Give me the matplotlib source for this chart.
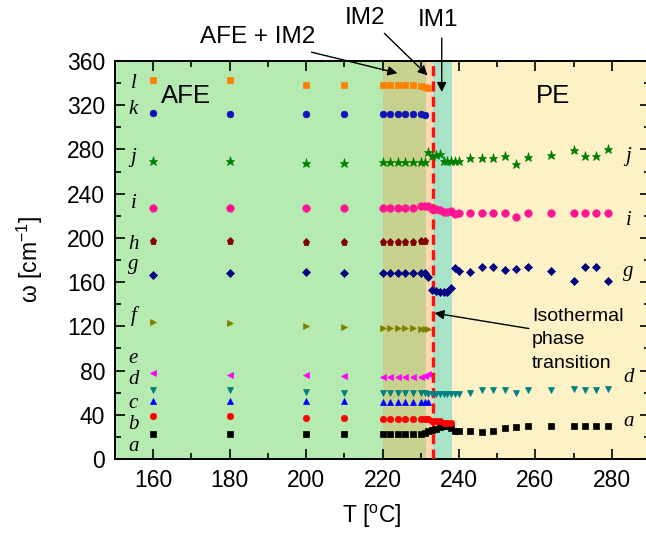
import matplotlib
matplotlib.use('Agg')
import matplotlib.pyplot as plt
from matplotlib.ticker import MultipleLocator

plt.rcParams['font.family'] = ['Liberation Sans', 'DejaVu Sans']
plt.rcParams['mathtext.fontset'] = 'custom'
plt.rcParams['mathtext.rm'] = 'Liberation Sans'
plt.rcParams['mathtext.it'] = 'Liberation Sans:italic'

# temperature grids (deg C)
T_LOW = [160, 180, 200, 210]
T_AFE = [220, 222, 224, 226, 228, 230, 231]
T_TR = [232, 233, 234, 235, 236, 237, 238]
T_PE = [239, 240, 243, 246, 249, 252, 255, 258, 264, 270, 273, 276, 279]

# mode frequencies (cm^-1)
w_l = [342.8, 342.8, 338.3, 338.3] + [338.3, 338.3, 338.3, 338.3, 338.3, 337.0, 336.5] + [336.0]
w_k = [313.3, 312.0, 312.0, 312.0] + [312.0, 312.0, 312.0, 312.0, 312.0, 312.0, 311.5]
w_j = ([269.9, 270.0, 268.0, 268.0] + [268.5] * 7
       + [277.4, 274.4, 275.0, 276.0, 270.0, 270.0, 270.0]
       + [270.0, 270.0, 272.6, 272.0, 272.0, 274.2, 266.6, 273.4, 275.2, 279.5, 274.3, 274.3, 280.2])
w_i = ([227.4] * 4 + [227.4] * 5 + [228.5, 228.5]
       + [228.5, 226.0, 225.8, 225.3, 223.8, 223.8, 224.5]
       + [221.7, 222.3, 222.3, 222.3, 222.3, 222.3, 219.3, 222.3, 222.3, 222.3, 222.3, 222.3, 222.3])
w_h = [197.3, 197.3, 196.6, 196.6] + [196.6] * 5 + [197.5, 197.5]
w_g = ([166.5, 168.6, 169.0, 168.3] + [168.6] * 6 + [168.0]
       + [165.0, 153.0, 152.0, 151.5, 151.0, 151.0, 154.5]
       + [172.5, 170.4, 169.5, 174.0, 174.0, 171.0, 171.7, 174.0, 170.1, 161.3, 174.0, 174.0, 161.1])
w_f = [124.3, 122.8, 120.4, 119.2] + [118.2] * 5 + [117.4, 117.4] + [117.4]
w_e = [77.6, 76.1, 75.8, 75.2] + [74.0] * 5 + [74.5, 75.2] + [77.0]
w_d = ([62.5, 62.5, 61.0, 60.1] + [59.5] * 7 + [59.0] * 7
       + [59.0, 59.0, 60.0, 62.0, 62.0, 62.0, 60.0, 62.0, 62.0, 63.0, 62.5, 62.5, 63.0])
w_c = [52.5, 52.5, 52.5, 52.2] + [51.6] * 7 + [51.6]
w_b = [38.9, 38.9, 37.4, 36.8] + [36.3] * 7 + [36.0, 34.8, 34.3, 34.0, 32.5, 33.0, 32.5]
w_a = ([22.9, 22.9, 22.9, 22.3] + [22.6] * 6 + [23.5]
       + [25.0, 26.2, 26.8, 28.8, 29.4, 29.8, 27.7]
       + [25.4, 25.4, 25.0, 24.3, 25.0, 27.9, 28.8, 29.4, 29.4, 29.4, 29.4, 30.0, 30.0])

T_ALL = T_LOW + T_AFE + T_TR + T_PE
T_BELOW = T_LOW + T_AFE
T_BELOW_232 = T_LOW + T_AFE + [232]
T_TO_238 = T_LOW + T_AFE + T_TR

series = [
    # label, T, omega, marker, colour, size
    ('a', T_ALL, w_a, 's', 'black', 4.2),
    ('b', T_TO_238, w_b, 'o', '#ff0000', 4.6),
    ('c', T_BELOW_232, w_c, '^', '#0000ff', 5.0),
    ('d', T_ALL, w_d, 'v', '#008080', 5.0),
    ('e', T_BELOW_232, w_e, '<', '#ff00ff', 5.0),
    ('f', T_BELOW_232, w_f, '>', '#808000', 5.0),
    ('g', T_ALL, w_g, 'D', '#000080', 4.2),
    ('h', T_BELOW, w_h, 'p', '#800000', 5.2),
    ('i', T_ALL, w_i, 'o', '#ff1493', 5.4),
    ('j', T_ALL, w_j, '*', '#008000', 6.5),
    ('k', T_BELOW, w_k, 'o', '#1010b8', 4.8),
    ('l', T_BELOW_232, w_l, 's', '#ff8000', 4.4),
]

# mode letters beside the data
left_letters = ['a', 'b', 'c', 'd', 'e', 'f', 'g', 'h', 'i', 'j', 'k', 'l']
left_letter_w = [11, 31, 50.5, 72, 91, 129, 176, 194, 231, 273, 316, 340]
right_letters = ['a', 'd', 'g', 'i', 'j']
right_letter_w = [34, 73.3, 169.6, 216, 273.5]

fig = plt.figure(figsize=(6.46, 5.47), dpi=100)
ax = fig.add_axes([115 / 646, 88 / 547, 535 / 646, 398 / 547])

# phase regions
ax.axvspan(150, 220, color='#b5ebb0', lw=0, zorder=0)
ax.axvspan(220, 231.5, color='#c9d18e', lw=0, zorder=0)
ax.axvspan(231.5, 233.1, color='#f8d9b4', lw=0, zorder=0)
ax.axvspan(233.1, 238.3, color='#a8e3c7', lw=0, zorder=0)
ax.axvspan(238.3, 290, color='#fdf1c6', lw=0, zorder=0)
ax.axvline(233.1, color='#ff1010', lw=2.4, ls=(0, (3, 1.6)), zorder=3)

for name, t, w, m, c, s in series:
    ax.plot(t, w, ls='none', marker=m, color=c, markersize=s,
            markeredgewidth=0.5, zorder=4)

for lab, y in zip(left_letters, left_letter_w):
    ax.text(154.8, y, lab, family='Liberation Serif', style='italic',
            fontsize=15, ha='center', va='center', zorder=5)
for lab, y in zip(right_letters, right_letter_w):
    ax.text(284.4, y, lab, family='Liberation Serif', style='italic',
            fontsize=15, ha='center', va='center', zorder=5)

ax.text(168.6, 328, 'AFE', fontsize=18.5, ha='center', va='center')
ax.text(264.6, 328, 'PE', fontsize=18.5, ha='center', va='center')

arrow = dict(arrowstyle='-|>', color='black', lw=1.0, mutation_scale=14,
             shrinkA=0, shrinkB=0)
ax.annotate('', xy=(223.9, 349), xytext=(201.4, 368), arrowprops=arrow,
            annotation_clip=False)
ax.text(187.3, 382, 'AFE + IM2', fontsize=17.5, ha='center', va='center',
        clip_on=False)
ax.annotate('', xy=(231.8, 347), xytext=(220.5, 385), arrowprops=arrow,
            annotation_clip=False)
ax.text(215.3, 398.5, 'IM2', fontsize=17.5, ha='center', va='center',
        clip_on=False)
ax.annotate('', xy=(235.5, 332), xytext=(235.5, 380.7), arrowprops=arrow,
            annotation_clip=False)
ax.text(234.6, 397, 'IM1', fontsize=17.5, ha='center', va='center',
        clip_on=False)

ax.annotate('', xy=(233.6, 132), xytext=(258.3, 118), arrowprops=arrow)
ax.text(259.1, 137, 'Isothermal\nphase\ntransition', fontsize=14,
        ha='left', va='top', linespacing=1.5)

ax.set_xlim(150, 290)
ax.set_ylim(0, 360)
ax.xaxis.set_major_locator(MultipleLocator(20))
ax.xaxis.set_minor_locator(MultipleLocator(10))
ax.yaxis.set_major_locator(MultipleLocator(40))
ax.yaxis.set_minor_locator(MultipleLocator(20))
ax.tick_params(which='both', direction='in', top=True, right=True,
               labelsize=16.5, width=1.2)
ax.tick_params(which='major', length=7, pad=7)
ax.tick_params(which='minor', length=4)
for sp in ax.spines.values():
    sp.set_linewidth(1.4)

ax.set_xlabel('T [$^{\\rm o}$C]', fontsize=16.5)
ax.set_ylabel('\u03c9 [cm$^{-1}$]', fontsize=16.5)
ax.xaxis.set_label_coords(0.48, -0.11)
ax.yaxis.set_label_coords(-0.13, 0.5)

fig.savefig('out.png', dpi=100)
